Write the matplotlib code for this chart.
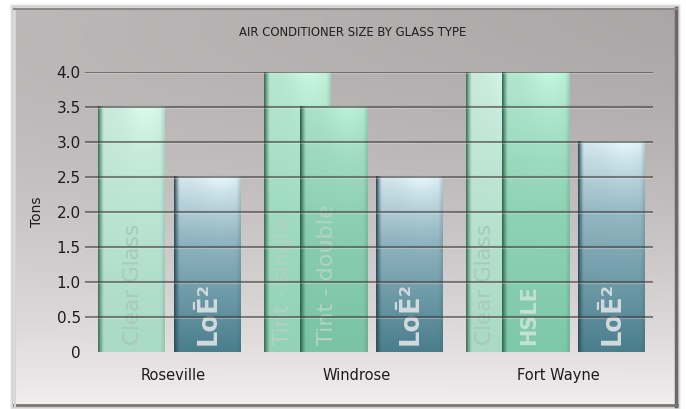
import numpy as np
import matplotlib
matplotlib.use("Agg")
import matplotlib.pyplot as plt
from matplotlib.patches import Rectangle

# ---------------- data ----------------
cities = ["Roseville", "Windrose", "Fort Wayne"]
glass_labels = ["Clear Glass", "LoĒ²", "Tint - single", "Tint - double",
                "LoĒ²", "Clear Glass", "HSLE", "LoĒ²"]
glass_kind = ["clear", "loe", "tint1", "tint2", "loe", "clear", "hsle", "loe"]
bar_city = [0, 0, 1, 1, 1, 2, 2, 2]
tons = [3.5, 2.5, 4.0, 3.5, 2.5, 4.0, 4.0, 3.0]
ytick_values = [0, 0.5, 1.0, 1.5, 2.0, 2.5, 3.0, 3.5, 4.0]
ytick_labels = ["0", "0.5", "1.0", "1.5", "2.0", "2.5", "3.0", "3.5", "4.0"]
title = "AIR CONDITIONER SIZE BY GLASS TYPE"
ylabel = "Tons"

# ---------------- style ----------------
W, H = 686, 409
fig = plt.figure(figsize=(W / 100, H / 100), dpi=100)
fig.patch.set_facecolor("white")
plt.rcParams["font.family"] = ["DejaVu Sans"]

# background panel
bg = fig.add_axes([0, 0, 1, 1])
bg.set_xlim(0, W)
bg.set_ylim(H, 0)
bg.axis("off")
ny, nx = 300, 400
yy = np.linspace(0, 1, ny)[:, None]
xx = np.linspace(0, 1, nx)[None, :]
v = 0.665 + 0.28 * yy ** 1.6 + 0.07 * (1 - xx) * (1 - yy) ** 1.5
img = np.zeros((ny, nx, 3))
img[..., 0] = v + 0.004
img[..., 1] = v - 0.012
img[..., 2] = v - 0.010
img = np.clip(img, 0, 1)
px0, px1, py0, py1 = 14, 677, 8, 406
for i, a in enumerate([0.05, 0.08, 0.12]):
    bg.add_patch(Rectangle((px0 - 3 + i, py0 - 3 + i), px1 - px0 + 6 - 2 * i,
                           py1 - py0 + 6 - 2 * i, facecolor="none",
                           edgecolor=(0, 0, 0, a), lw=1.5))
bg.imshow(img, extent=(px0, px1, py1, py0), aspect="auto", zorder=1)
bg.plot([px1 - 1.5, px1 - 1.5], [py0, py1], color="#6c6866", lw=2.5, zorder=2)
bg.plot([px0, px1], [py1 - 1, py1 - 1], color="#7a7674", lw=2, zorder=2)
bg.plot([px0 + 1, px0 + 1], [py0, py1], color="#d8d6d5", lw=1.5, zorder=2)
bg.plot([px0, px1], [py0 + 1, py0 + 1], color="#8d8987", lw=1.5, zorder=2)

# main axes
ax_left, ax_right, ax_bottom, ax_top = 85, 653, 352, 72
ax = fig.add_axes([ax_left / W, (H - ax_bottom) / H,
                   (ax_right - ax_left) / W, (ax_bottom - ax_top) / H])
ax.set_facecolor("none")
for s in ax.spines.values():
    s.set_visible(False)

bar_w = 1.0
xmax = (ax_right - ax_left) / 67.0
first_center = 0.694
step_group, step_adjacent, step_overlap = 1.343, 1.134, 0.537
positions = [first_center]
for i in range(1, len(tons)):
    if bar_city[i] != bar_city[i - 1]:
        positions.append(positions[-1] + step_group)
    elif glass_kind[i] == "loe":
        positions.append(positions[-1] + step_adjacent)
    else:
        positions.append(positions[-1] + step_overlap)

bars = ax.bar(positions, tons, width=bar_w, color="none", edgecolor="none")

palette = {
    "clear": [(200, 234, 220), (184, 226, 209), (168, 218, 197)],
    "tint1": [(184, 230, 208), (160, 219, 192), (146, 210, 182)],
    "tint2": [(170, 224, 200), (138, 205, 176), (122, 195, 165)],
    "hsle":  [(178, 230, 206), (142, 210, 180), (126, 200, 170)],
    "loe":   [(212, 230, 236), (146, 182, 193), (74, 126, 141)],
}
edge_col = {"clear": (70, 118, 98), "tint1": (62, 112, 92), "tint2": (48, 100, 80),
            "hsle": (52, 106, 84), "loe": (48, 80, 92)}
text_col = {"clear": "#aac8bb", "tint1": "#b6d0c4", "tint2": "#b0d4c2",
            "hsle": "#c3e2d4", "loe": "#d2dadd"}
text_weight = {"clear": "normal", "tint1": "normal", "tint2": "normal",
               "hsle": "bold", "loe": "bold"}
text_size = {"clear": 15.5, "tint1": 15.5, "tint2": 16, "hsle": 15, "loe": 18.5}


def bar_image(kind):
    top, mid, bot = [np.array(c) / 255.0 for c in palette[kind]]
    n_y, n_x = 120, 60
    t = np.linspace(0, 1, n_y)[:, None, None]
    m = 0.35 if kind == "loe" else 0.5
    col = np.where(t < m, top + (mid - top) * (t / m),
                   mid + (bot - mid) * ((t - m) / (1 - m)))
    col = np.broadcast_to(col, (n_y, n_x, 3)).copy()
    xs = np.linspace(0, 1, n_x)[None, :, None]
    sheen = 0.07 * np.exp(-t / 0.15) * np.exp(-((xs - 0.7) / 0.3) ** 2)
    col = col + sheen
    e = np.array(edge_col[kind]) / 255.0
    w_edge = np.clip(1 - xs / 0.08, 0, 1) ** 1.2
    col = col * (1 - w_edge) + e * w_edge
    w_r = np.clip((xs - 0.94) / 0.06, 0, 1) * 0.2
    col = col * (1 - w_r) + e * w_r
    return np.clip(col, 0, 1)


for i, b in enumerate(bars):
    x0, w, h = b.get_x(), b.get_width(), b.get_height()
    ax.imshow(bar_image(glass_kind[i]), extent=(x0, x0 + w, 0, h),
              aspect="auto", zorder=2 + i * 0.1, interpolation="bilinear")

# labels inside bars
for i, b in enumerate(bars):
    x0, w = b.get_x(), b.get_width()
    behind = (i + 1 < len(bars) and bar_city[i + 1] == bar_city[i]
              and glass_kind[i + 1] != "loe")
    if behind:
        xt = x0 + 0.29 * w
    elif glass_kind[i] in ("tint2", "hsle"):
        xt = x0 + 0.40 * w
    else:
        xt = x0 + 0.52 * w
    k = glass_kind[i]
    ax.text(xt, 0.1, glass_labels[i], rotation=90, ha="center", va="bottom",
            color=text_col[k], fontsize=text_size[k], fontweight=text_weight[k],
            zorder=4)

# gridlines on top
for yv in ytick_values[1:]:
    ax.axhline(yv, color="#3f3c3a", lw=1.5, alpha=0.6, zorder=6)
    ax.axhline(yv - 0.018, color="#ffffff", lw=0.8, alpha=0.25, zorder=6)

ax.set_xlim(0, xmax)
ax.set_ylim(0, 4.0)
ax.set_xticks([])
ax.set_yticks(ytick_values, ytick_labels)
ax.tick_params(axis="y", length=0, pad=3, labelsize=11, labelcolor="#1c1c1c")
ax.set_ylabel(ylabel, fontsize=10, color="#1c1c1c")
ax.yaxis.set_label_coords((44 - ax_left) / (ax_right - ax_left), 0.5)

# city labels
for c, name in enumerate(cities):
    idx = [i for i in range(len(tons)) if bar_city[i] == c]
    lo = min(bars[i].get_x() for i in idx)
    hi = max(bars[i].get_x() + bars[i].get_width() for i in idx)
    ax.text((lo + hi) / 2 + 0.05, -0.33, name, ha="center", va="center",
            fontsize=10.5, color="#1c1c1c", clip_on=False)

fig.text(353 / W, 1 - 32 / H, title, ha="center", va="center",
         fontsize=8.4, color="#1e1e1e")

fig.savefig("out.png", dpi=100, facecolor="white")
